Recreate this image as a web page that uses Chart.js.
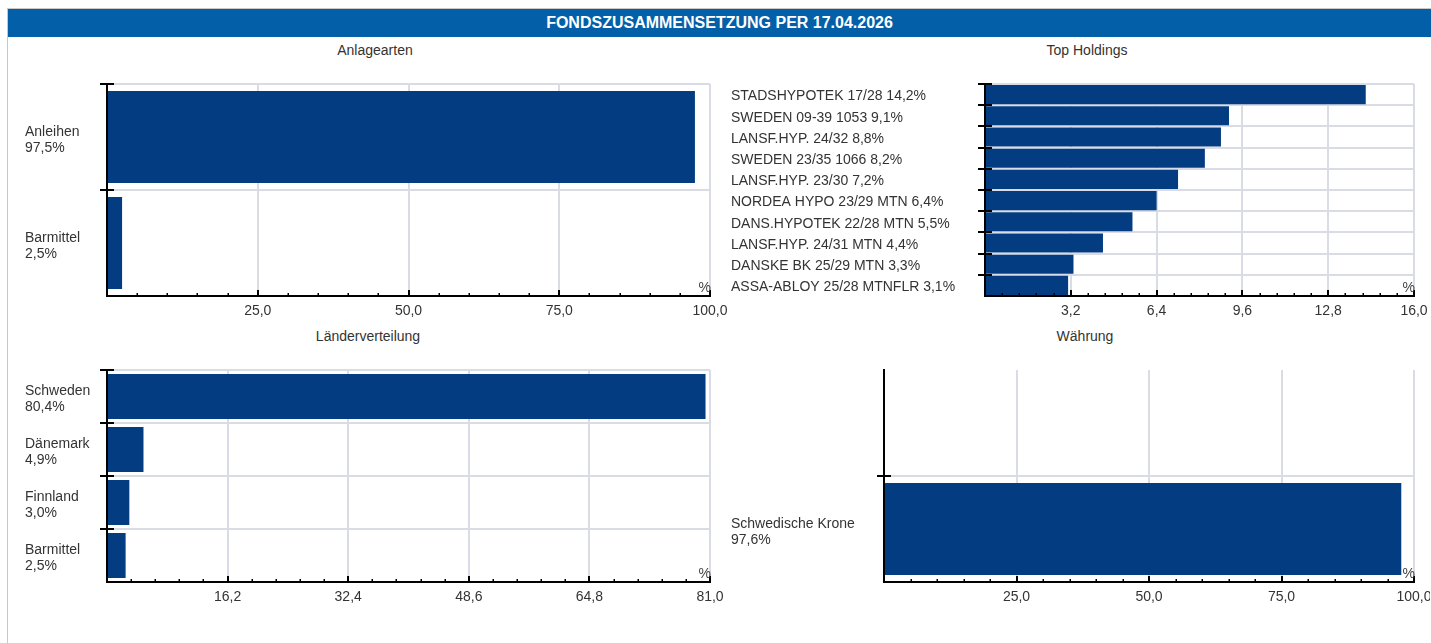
<!DOCTYPE html>
<html>
<head>
<meta charset="utf-8">
<title>Fondszusammensetzung</title>
<script src="https://cdn.jsdelivr.net/npm/chart.js@4.4.1/dist/chart.umd.min.js"></script>
<style>
  html, body { margin: 0; padding: 0; background: #fff; overflow: hidden; width: 1431px; height: 643px; }
  body { position: relative; font-family: "Liberation Sans", Arial, sans-serif; }
  #frame { position: absolute; left: 7px; top: 8px; width: 1430px; height: 640px;
           border-left: 1px solid #c9c9c9; border-top: 1px solid #c9c9c9; }
  #head { position: absolute; left: 8px; top: 9px; width: 1423px; height: 28px; background: #0360a8;
          color: #fff; font-weight: bold; font-size: 16px; line-height: 28px; text-align: center; }
  .ttl { position: absolute; font-size: 14px; line-height: 16px; color: #333; white-space: nowrap;
         transform: translateX(-50%); }
  canvas { position: absolute; }
</style>
</head>
<body>
<div id="frame"></div>
<div id="head">FONDSZUSAMMENSETZUNG PER 17.04.2026</div>

<div class="ttl" style="left:375px; top:42px;">Anlagearten</div>
<div class="ttl" style="left:1087px; top:42px;">Top Holdings</div>
<div class="ttl" style="left:368px; top:328px;">Länderverteilung</div>
<div class="ttl" style="left:1085px; top:328px;">Währung</div>

<canvas id="cAnlage" width="705" height="264" style="left:25px; top:60px;"></canvas>
<canvas id="cHoldings" width="699" height="264" style="left:731px; top:60px;"></canvas>
<canvas id="cLaender" width="705" height="264" style="left:25px; top:346px;"></canvas>
<canvas id="cWaehrung" width="699" height="264" style="left:731px; top:346px;"></canvas>

<script>
// Anlagearten
const anlageNames = ['Anleihen', 'Barmittel'];
const anlageValues = [97.5, 2.5];
const anlageTicks = [0, 25, 50, 75, 100];

// Top Holdings
const holdingNames = [
  'STADSHYPOTEK 17/28',
  'SWEDEN 09-39 1053',
  'LANSF.HYP. 24/32',
  'SWEDEN 23/35 1066',
  'LANSF.HYP. 23/30',
  'NORDEA HYPO 23/29 MTN',
  'DANS.HYPOTEK 22/28 MTN',
  'LANSF.HYP. 24/31 MTN',
  'DANSKE BK 25/29 MTN',
  'ASSA-ABLOY 25/28 MTNFLR'
];
const holdingValues = [14.2, 9.1, 8.8, 8.2, 7.2, 6.4, 5.5, 4.4, 3.3, 3.1];
const holdingTicks = [0, 3.2, 6.4, 9.6, 12.8, 16.0];

// Länderverteilung
const countryNames = ['Schweden', 'Dänemark', 'Finnland', 'Barmittel'];
const countryValues = [80.4, 4.9, 3.0, 2.5];
const countryTicks = [0, 16.2, 32.4, 48.6, 64.8, 81.0];

// Währung (the first slot stays empty)
const currencyNames = ['', 'Schwedische Krone'];
const currencyValues = [null, 97.6];
const currencyTicks = [0, 25, 50, 75, 100];

const BAR = '#033c80';
const GRID = '#d9dce4';
const TEXT = '#333';
const FONT = '"Liberation Sans", Arial, sans-serif';
const SIZE = 14;

const fmt = v => v.toFixed(1).replace('.', ',');

// Category boundary stubs, value-axis tick marks and the unit sign
const axisMarks = {
  id: 'axisMarks',
  afterDatasetsDraw(chart, args, opts) {
    const { ctx, chartArea: a, scales: { x, y } } = chart;
    ctx.save();
    ctx.strokeStyle = '#000';
    ctx.lineWidth = 2;
    for (let i = 0; i < y.ticks.length; i++) {
      if (opts.skip.includes(i)) continue;
      const py = Math.round(y.getPixelForValue(i - 0.5));
      ctx.beginPath();
      ctx.moveTo(a.left - 7, py);
      ctx.lineTo(a.left + 7, py);
      ctx.stroke();
    }
    const t = opts.ticks;
    for (let i = 1; i < t.length; i++) {
      const px = Math.round(x.getPixelForValue(t[i]));
      ctx.lineWidth = 2;
      ctx.beginPath();
      ctx.moveTo(px, a.bottom);
      ctx.lineTo(px, a.bottom - 6);
      ctx.stroke();
      ctx.lineWidth = 1.5;
      for (let k = 1; k < 5; k++) {
        const mv = t[i - 1] + (t[i] - t[i - 1]) * k / 5;
        const mx = Math.round(x.getPixelForValue(mv)) + 0.25;
        ctx.beginPath();
        ctx.moveTo(mx, a.bottom);
        ctx.lineTo(mx, a.bottom - 3);
        ctx.stroke();
      }
    }
    ctx.fillStyle = '#444';
    ctx.font = SIZE + 'px ' + FONT;
    ctx.textAlign = 'right';
    ctx.textBaseline = 'alphabetic';
    ctx.fillText('%', a.right + 1, a.bottom - 4);
    ctx.restore();
  }
};

function makeChart(id, labels, values, ticks, axisWidth, padRight, barPct, skip, labelShift) {
  return new Chart(document.getElementById(id), {
    type: 'bar',
    data: {
      labels: labels,
      datasets: [{
        data: values,
        backgroundColor: BAR,
        borderWidth: 0,
        barPercentage: barPct,
        categoryPercentage: 1
      }]
    },
    plugins: [axisMarks],
    options: {
      indexAxis: 'y',
      responsive: false,
      animation: false,
      events: [],
      layout: { padding: { top: 24, right: padRight, bottom: 0, left: 0 } },
      plugins: {
        legend: { display: false },
        tooltip: { enabled: false },
        title: { display: false },
        axisMarks: { ticks: ticks, skip: skip }
      },
      scales: {
        x: {
          type: 'linear',
          min: ticks[0],
          max: ticks[ticks.length - 1],
          afterBuildTicks: s => { s.ticks = ticks.map(v => ({ value: v })); },
          afterFit: s => { s.height = 28; s.paddingLeft = 0; s.paddingRight = 0; },
          grid: { color: GRID, lineWidth: 2, drawTicks: false },
          border: { display: true, color: '#000', width: 2, z: 1 },
          ticks: {
            padding: 7,
            color: TEXT,
            font: { family: FONT, size: SIZE },
            maxRotation: 0,
            autoSkip: false,
            callback: v => (v === 0 ? '' : fmt(v))
          }
        },
        y: {
          type: 'category',
          afterFit: s => { s.width = axisWidth; },
          grid: {
            offset: true,
            drawTicks: false,
            lineWidth: 2,
            color: c => (c.type !== 'tick' || skip.includes(c.index)) ? 'rgba(0,0,0,0)' : GRID
          },
          border: { display: true, color: '#000', width: 2, z: 1 },
          ticks: {
            crossAlign: 'far',
            labelOffset: labelShift,
            color: TEXT,
            autoSkip: false,
            font: { family: FONT, size: SIZE, lineHeight: '16px' }
          }
        }
      }
    }
  });
}

const twoLine = (names, vals) => names.map((n, i) => vals[i] == null ? '' : [n, fmt(vals[i]) + '%']);
const oneLine = (names, vals) => names.map((n, i) => n + ' ' + fmt(vals[i]) + '%');

makeChart('cAnlage', twoLine(anlageNames, anlageValues), anlageValues, anlageTicks, 82, 20, 0.87, [], 3);
makeChart('cHoldings', oneLine(holdingNames, holdingValues), holdingValues, holdingTicks, 254, 16, 0.9, [], 2);
makeChart('cLaender', twoLine(countryNames, countryValues), countryValues, countryTicks, 82, 20, 0.85, [], 3);
makeChart('cWaehrung', twoLine(currencyNames, currencyValues), currencyValues, currencyTicks, 153, 16, 0.87, [0], 3);
</script>
</body>
</html>
